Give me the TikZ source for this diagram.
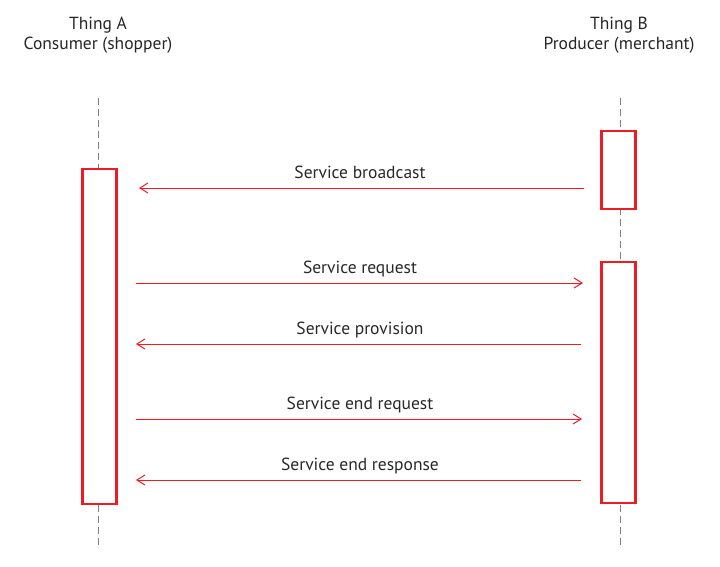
\documentclass[tikz,border=0pt]{standalone}
\usepackage{fontspec}
\setmainfont{PT Sans}
\usetikzlibrary{arrows.meta}
\definecolor{sigred}{RGB}{237,28,36}
\definecolor{lblgray}{RGB}{40,40,40}
\begin{document}
\begin{tikzpicture}[x=1pt, y=-1pt,
    lifeline/.style={draw=gray, line width=0.8pt, dash pattern=on 7pt off 4pt},
    activation/.style={draw=sigred, fill=white, line width=2.6pt, minimum width=34pt, inner sep=0pt},
    message/.style={draw=sigred, line width=1pt, -{Straight Barb[length=8pt, width=10pt]}},
    msglabel/.style={text=lblgray, font=\fontsize{17.5}{20}\selectfont},
    thing/.style={text=black!85, align=center, font=\fontsize{17.5}{20}\selectfont}]
    \useasboundingbox (0,0) rectangle (720,567);

    \def\msg#1#2#3#4#5{%
        \coordinate (#1s) at (#2,#4);
        \coordinate (#1e) at (#3,#4);
        \draw[message] (#1s) -- (#1e);
        \node[msglabel, anchor=base] (#1l) at (360,#4-10) {#5};
    }

    \node[thing] (thingA) at (98,35) {Thing A\\Consumer (shopper)};
    \node[thing] (thingB) at (619,35) {Thing B\\Producer (merchant)};

    \coordinate (topA) at (98,98);
    \coordinate (botA) at (98,547);
    \coordinate (topB) at (620,98);
    \coordinate (botB) at (620,547);
    \draw[lifeline] (topA) -- (botA);
    \draw[lifeline] (topB) -- (botB);

    \node[activation, minimum height=335pt] (actA) at (99.5,336.5) {};
    \node[activation, minimum height=78pt] (actB1) at (618.5,170) {};
    \node[activation, minimum height=241pt] (actB2) at (618.5,382.5) {};

    \msg{bcast}{584}{139}{188}{Service broadcast}
    \msg{req}{136}{583}{283}{Service request}
    \msg{prov}{581}{136}{344}{Service provision}
    \msg{endreq}{136}{582}{419}{Service end request}
    \msg{endresp}{581}{136}{480}{Service end response}
\end{tikzpicture}
\end{document}
